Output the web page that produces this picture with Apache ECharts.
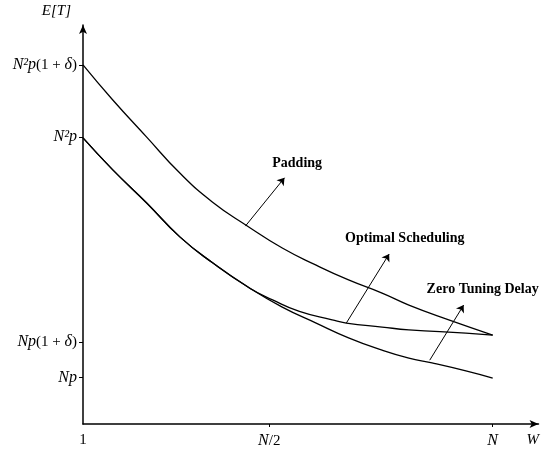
<!DOCTYPE html>
<html><head><meta charset="utf-8">
<script src="https://cdn.jsdelivr.net/npm/echarts@6/dist/echarts.min.js"></script>
<style>html,body{margin:0;padding:0;background:#fff}#c{width:542px;height:454px}</style>
</head><body><div id="c"></div>
<script>
// W values (N = 12) and E[T] values (schematic units)
const padW = [1.00, 1.80, 2.71, 3.60, 4.48, 5.40, 6.35, 7.26, 8.13, 9.03, 9.75, 10.82, 12.00];
const padE = [90.0, 81.2, 71.9, 62.9, 55.6, 49.7, 44.1, 39.8, 36.1, 32.8, 29.8, 26.1, 22.3];

const zeroW = [1.00, 1.80, 2.71, 3.60, 4.48, 5.47, 6.35, 7.26, 8.13, 9.03, 9.75, 10.37, 11.28, 12.00];
const zeroE = [71.7, 63.7, 55.4, 46.9, 40.4, 34.1, 29.3, 25.3, 21.6, 18.5, 16.5, 15.3, 13.3, 11.5];

const optW = [1.00, 1.80, 2.71, 3.60, 4.48, 5.47, 6.09, 6.81, 7.69, 8.07, 9.03, 9.75, 11.28, 12.00];
const optE = [71.7, 63.7, 55.4, 46.9, 40.4, 34.1, 31.1, 28.2, 26.1, 25.3, 24.3, 23.6, 22.8, 22.3];

const xTickValues = [1, 6, 12];
const xTickLabels = ['{r|1}', '{i|N}{r|/2}', '{i|N}'];
const yTickValues = [11.6, 20.55, 71.9, 90.0];
const yTickLabels = ['{i|Np}', '{i|Np}{r|(1 + }{i|δ}{r|)}', '{i|N²p}', '{i|N²p}{r|(1 + }{i|δ}{r|)}'];

const curveNames = ['Padding', 'Optimal Scheduling', 'Zero Tuning Delay'];
// annotation arrows: [from W, from E, to W, to E]
const arrowPad = [5.36, 49.6, 6.41, 61.7];
const arrowOpt = [8.07, 25.3, 9.22, 42.6];
const arrowZero = [10.31, 16.0, 11.22, 29.8];
// label anchor points [W, E]
const labelPad = [6.75, 65.2];
const labelOpt = [9.64, 46.4];
const labelZero = [11.73, 33.8];

const serif = '"Liberation Serif", "DejaVu Serif", serif';
const rich = {
  i: {fontFamily: serif, fontStyle: 'italic', fontSize: 16, color: '#000'},
  r: {fontFamily: serif, fontSize: 15, color: '#000'}
};

function zip(a, b) { return a.map((v, k) => [v, b[k]]); }
function arrow(a) {
  return {
    symbol: ['none', 'arrow'], symbolSize: 7, silent: true, animation: false,
    lineStyle: {color: '#000', width: 1, type: 'solid'}, label: {show: false},
    data: [[{coord: [a[0], a[1]]}, {coord: [a[2], a[3]]}]]
  };
}
function tag(name, p) {
  return {
    symbol: 'circle', symbolSize: 0.01, silent: true, animation: false,
    label: {show: true, position: 'inside', formatter: name, color: '#000',
      fontFamily: serif, fontWeight: 'bold', fontSize: 14},
    data: [{coord: p}]
  };
}
const lineStyle = {color: '#000', width: 1.3};

const chart = echarts.init(document.getElementById('c'), null, {renderer: 'canvas'});
chart.setOption({
  animation: false,
  backgroundColor: '#fff',
  grid: {left: 83, right: 2, top: 25, bottom: 30, containLabel: false},
  xAxis: {
    type: 'value', min: 1, max: 13.23,
    name: 'W', nameLocation: 'end', nameGap: -12,
    nameTextStyle: {fontFamily: serif, fontStyle: 'italic', fontSize: 15, color: '#000', verticalAlign: 'top', padding: [9, 0, 0, 0]},
    axisLine: {show: true, symbol: ['none', 'arrow'], symbolSize: [6, 9], lineStyle: {color: '#000', width: 1.5}},
    axisTick: {show: true, customValues: [6, 12], length: 3, lineStyle: {color: '#000'}},
    axisLabel: {show: true, customValues: xTickValues, margin: 9, rich: rich,
      formatter: v => xTickLabels[xTickValues.indexOf(v)] || ''},
    splitLine: {show: false}
  },
  yAxis: {
    type: 'value', min: 0, max: 100,
    name: 'E[T]', nameLocation: 'end', nameGap: 6,
    nameTextStyle: {fontFamily: serif, fontStyle: 'italic', fontSize: 15, color: '#000', align: 'right', padding: [0, 12, 0, 0]},
    axisLine: {show: true, symbol: ['none', 'arrow'], symbolSize: [6, 9], lineStyle: {color: '#000', width: 1.5}},
    axisTick: {show: true, customValues: yTickValues, length: 4, lineStyle: {color: '#000'}},
    axisLabel: {show: true, customValues: yTickValues, margin: 6, rich: rich,
      formatter: v => yTickLabels[yTickValues.indexOf(v)] || ''},
    splitLine: {show: false}
  },
  series: [
    {name: curveNames[0], type: 'line', data: zip(padW, padE), showSymbol: false, smooth: 0.5,
      lineStyle: lineStyle, markLine: arrow(arrowPad), markPoint: tag(curveNames[0], labelPad)},
    {name: curveNames[1], type: 'line', data: zip(optW, optE), showSymbol: false, smooth: 0.5,
      lineStyle: lineStyle, markLine: arrow(arrowOpt), markPoint: tag(curveNames[1], labelOpt)},
    {name: curveNames[2], type: 'line', data: zip(zeroW, zeroE), showSymbol: false, smooth: 0.5,
      lineStyle: lineStyle, markLine: arrow(arrowZero), markPoint: tag(curveNames[2], labelZero)}
  ]
});
</script></body></html>
